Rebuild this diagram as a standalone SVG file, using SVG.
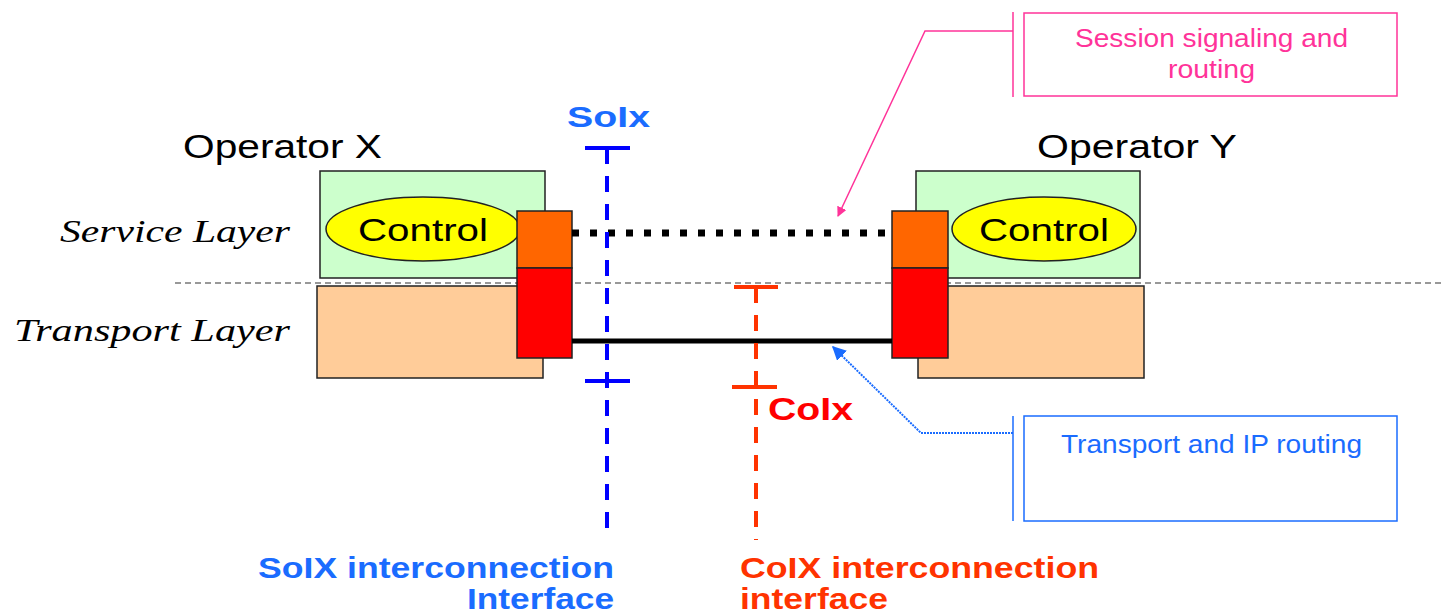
<svg xmlns="http://www.w3.org/2000/svg" width="1442" height="616" viewBox="0 0 1442 616">
<style>
.sans{font-family:"Liberation Sans",Arial,sans-serif}
.ital{font-family:"Liberation Serif","Times New Roman",serif;font-style:italic;font-size:31px;fill:#000}
.op{font-size:34px;fill:#000}
.ctl{font-size:32px;fill:#000}
.green{fill:#ccffcc;stroke:#222;stroke-width:1.5}
.tan{fill:#ffcc99;stroke:#222;stroke-width:1.5}
.orange{fill:#ff6600;stroke:#222;stroke-width:1.5}
.red{fill:#ff0000;stroke:#222;stroke-width:1.5}
.ell{fill:#ffff00;stroke:#222;stroke-width:1.5}
.blueT{fill:#1a6cff;font-weight:bold;font-size:30px}
.redT{fill:#ff3300;font-weight:bold;font-size:30px}
.note{font-size:25px}
</style>
<defs>
<marker id="pinkArrow" viewBox="0 0 10 10" refX="9" refY="5" markerWidth="10" markerHeight="10" markerUnits="userSpaceOnUse" orient="auto">
<path d="M0,0 L10,5 L0,10 z" fill="#ff3399"/>
</marker>
<marker id="blueArrow" viewBox="0 0 10 10" refX="9" refY="5" markerWidth="14" markerHeight="14" markerUnits="userSpaceOnUse" orient="auto">
<path d="M0,0 L10,5 L0,10 z" fill="#1a6cff"/>
</marker>
</defs>

<!-- layer labels -->
<text class="ital" x="60" y="242" textLength="230" lengthAdjust="spacingAndGlyphs">Service Layer</text>
<text class="ital" x="14" y="341" textLength="276" lengthAdjust="spacingAndGlyphs">Transport Layer</text>
<line x1="175" y1="283" x2="1442" y2="283" stroke="#333" stroke-width="1.2" stroke-dasharray="6 4"/>

<g id="operatorX">
<text class="sans op" x="183" y="158" textLength="199" lengthAdjust="spacingAndGlyphs">Operator X</text>
<rect class="green" x="320" y="171" width="225" height="107"/>
<rect class="tan" x="317" y="286" width="226" height="92"/>
<ellipse class="ell" cx="423" cy="229" rx="97" ry="32"/>
<text class="sans ctl" x="358" y="241" textLength="130" lengthAdjust="spacingAndGlyphs">Control</text>
<rect class="orange" x="517" y="211" width="55" height="57"/>
<rect class="red" x="517" y="268" width="55" height="90"/>
</g>

<g id="operatorY">
<text class="sans op" x="1037" y="158" textLength="200" lengthAdjust="spacingAndGlyphs">Operator Y</text>
<rect class="green" x="916" y="171" width="224" height="107"/>
<rect class="tan" x="918" y="286" width="226" height="92"/>
<ellipse class="ell" cx="1044" cy="229" rx="92" ry="32"/>
<text class="sans ctl" x="979" y="241" textLength="130" lengthAdjust="spacingAndGlyphs">Control</text>
<rect class="orange" x="892" y="211" width="56" height="57"/>
<rect class="red" x="892" y="268" width="56" height="90"/>
</g>

<g id="connectors">
<line x1="572" y1="233" x2="892" y2="233" stroke="#000" stroke-width="7" stroke-dasharray="7 11"/>
<line x1="572" y1="341" x2="892" y2="341" stroke="#000" stroke-width="5"/>
<!-- SoIx -->
<line x1="607" y1="148" x2="607" y2="540" stroke="#0000ff" stroke-width="4" stroke-dasharray="16 12"/>
<line x1="585" y1="148" x2="630" y2="148" stroke="#0000ff" stroke-width="4"/>
<line x1="585" y1="381" x2="630" y2="381" stroke="#0000ff" stroke-width="4"/>
<!-- CoIx -->
<line x1="756" y1="287" x2="756" y2="540" stroke="#ff3300" stroke-width="4" stroke-dasharray="16 12"/>
<line x1="734" y1="287" x2="778" y2="287" stroke="#ff3300" stroke-width="4"/>
<line x1="732" y1="387" x2="777" y2="387" stroke="#ff3300" stroke-width="4"/>
<!-- callout leaders -->
<polyline points="1013,31 925,31 838,216" fill="none" stroke="#ff3399" stroke-width="1.5" marker-end="url(#pinkArrow)"/>
<polyline points="1013,433 921,433 833,347" fill="none" stroke="#1a6cff" stroke-width="2" stroke-dasharray="2 1" marker-end="url(#blueArrow)"/>
</g>

<g id="labels">
<text class="sans blueT" x="567" y="127" font-size="32" textLength="83" lengthAdjust="spacingAndGlyphs">SoIx</text>
<text class="sans" x="768" y="420" fill="#ff0000" font-weight="bold" font-size="32" textLength="85" lengthAdjust="spacingAndGlyphs">CoIx</text>
<text class="sans blueT" x="258" y="578" textLength="356" lengthAdjust="spacingAndGlyphs">SoIX interconnection</text>
<text class="sans blueT" x="467" y="609" textLength="147" lengthAdjust="spacingAndGlyphs">Interface</text>
<text class="sans redT" x="740" y="578" textLength="359" lengthAdjust="spacingAndGlyphs">CoIX interconnection</text>
<text class="sans redT" x="740" y="609" textLength="148" lengthAdjust="spacingAndGlyphs">interface</text>
</g>

<g id="sessionNote">
<line x1="1013" y1="12" x2="1013" y2="97" stroke="#ff3399" stroke-width="1.5"/>
<rect x="1024" y="13" width="373" height="83" fill="#fff" stroke="#ff3399" stroke-width="1.5"/>
<text class="sans note" x="1075" y="47" fill="#ff3399" textLength="273" lengthAdjust="spacingAndGlyphs">Session signaling and</text>
<text class="sans note" x="1168" y="78" fill="#ff3399" textLength="87" lengthAdjust="spacingAndGlyphs">routing</text>
</g>

<g id="transportNote">
<line x1="1013" y1="416" x2="1013" y2="521" stroke="#1a6cff" stroke-width="1.5"/>
<rect x="1024" y="416" width="373" height="105" fill="#fff" stroke="#1a6cff" stroke-width="1.5"/>
<text class="sans note" x="1061" y="453" fill="#1a6cff" textLength="301" lengthAdjust="spacingAndGlyphs">Transport and IP routing</text>
</g>
</svg>
